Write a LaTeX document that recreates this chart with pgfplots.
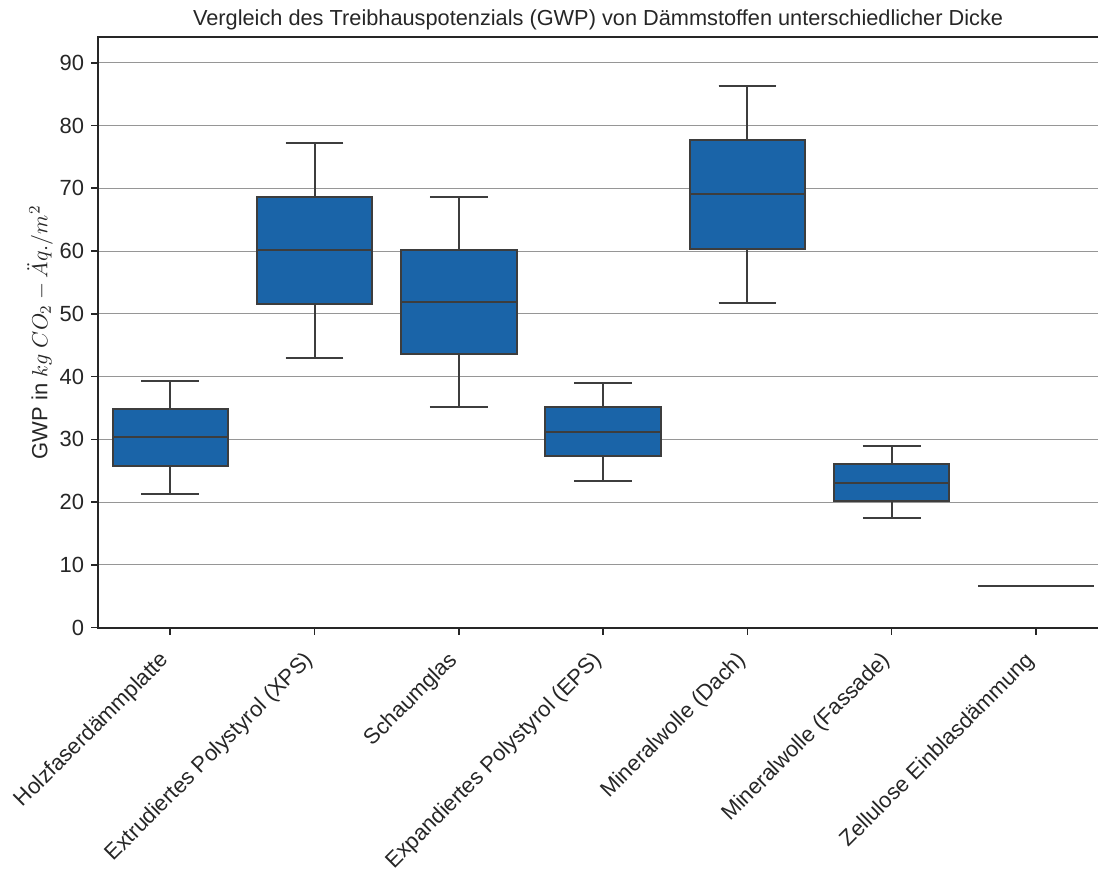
\documentclass[border={3pt 0pt 0pt 1.5pt}]{standalone}
\usepackage{pgfplots}
\pgfplotsset{compat=1.18}
\usepgfplotslibrary{statistics}
\usepackage{fontspec}
\setmainfont{Liberation Sans}
\definecolor{boxblue}{RGB}{26,100,168}
\definecolor{edge}{RGB}{61,61,61}
\definecolor{spine}{RGB}{38,38,38}
\definecolor{gridc}{RGB}{150,150,150}
\begin{document}
\begin{tikzpicture}
\begin{axis}[
  scale only axis, width=501pt, height=296pt,
  xmin=-0.5, xmax=6.43, ymin=0, ymax=94.1,
  clip=false,
  axis line style={draw=none},
  ytick={0,10,...,90},
  xtick={0,1,2,3,4,5,6},
  xticklabels={Holzfaserdämmplatte, Extrudiertes Polystyrol (XPS), Schaumglas, Expandiertes Polystyrol (EPS), Mineralwolle (Dach), Mineralwolle (Fassade), Zellulose Einblasdämmung},
  /pgf/number format/assume math mode=true,
  tick label style={font=\fontsize{11}{13}\selectfont, text=spine},
  x tick label style={rotate=45, anchor=north east, inner sep=2pt, xshift=-7.5pt, yshift=1pt},
  tick align=outside, tick pos=left, major tick length=3.5pt,
  tick style={spine, line width=0.8pt},
  ymajorgrids, grid style={gridc, line width=0.5pt},
  ylabel={GWP in $kg\ CO_2 - \ddot{A}q./m^2$},
  ylabel style={font=\fontsize{11}{13}\selectfont, text=spine, at={(axis description cs:-0.058,0.5)}, anchor=center},
  title={Vergleich des Treibhauspotenzials (GWP) von Dämmstoffen unterschiedlicher Dicke},
  title style={font=\fontsize{10.9}{13}\selectfont, text=spine, yshift=-6pt},
  boxplot/draw direction=y,
  boxplot/box extend=0.8, boxplot/whisker extend=0.4,
]
\addplot[boxplot prepared={draw position=0, lower whisker=21.3, lower quartile=25.8, median=30.3, upper quartile=34.8, upper whisker=39.3}, fill=boxblue, draw=edge, line width=1pt, solid] coordinates {};
\addplot[boxplot prepared={draw position=1, lower whisker=42.9, lower quartile=51.5, median=60.1, upper quartile=68.6, upper whisker=77.2}, fill=boxblue, draw=edge, line width=1pt, solid] coordinates {};
\addplot[boxplot prepared={draw position=2, lower whisker=35.2, lower quartile=43.6, median=51.9, upper quartile=60.2, upper whisker=68.6}, fill=boxblue, draw=edge, line width=1pt, solid] coordinates {};
\addplot[boxplot prepared={draw position=3, lower whisker=23.4, lower quartile=27.3, median=31.2, upper quartile=35.1, upper whisker=39.0}, fill=boxblue, draw=edge, line width=1pt, solid] coordinates {};
\addplot[boxplot prepared={draw position=4, lower whisker=51.8, lower quartile=60.4, median=69.1, upper quartile=77.7, upper whisker=86.3}, fill=boxblue, draw=edge, line width=1pt, solid] coordinates {};
\addplot[boxplot prepared={draw position=5, lower whisker=17.4, lower quartile=20.2, median=23.1, upper quartile=26.1, upper whisker=29.0}, fill=boxblue, draw=edge, line width=1pt, solid] coordinates {};
\addplot[boxplot prepared={draw position=6, lower whisker=6.7, lower quartile=6.7, median=6.7, upper quartile=6.7, upper whisker=6.7}, fill=boxblue, draw=edge, line width=1pt, solid] coordinates {};
\draw[spine, line width=1pt] (rel axis cs:1,1) -- (rel axis cs:0,1) -- (rel axis cs:0,0) -- (rel axis cs:1,0);
\end{axis}
\end{tikzpicture}
\end{document}
